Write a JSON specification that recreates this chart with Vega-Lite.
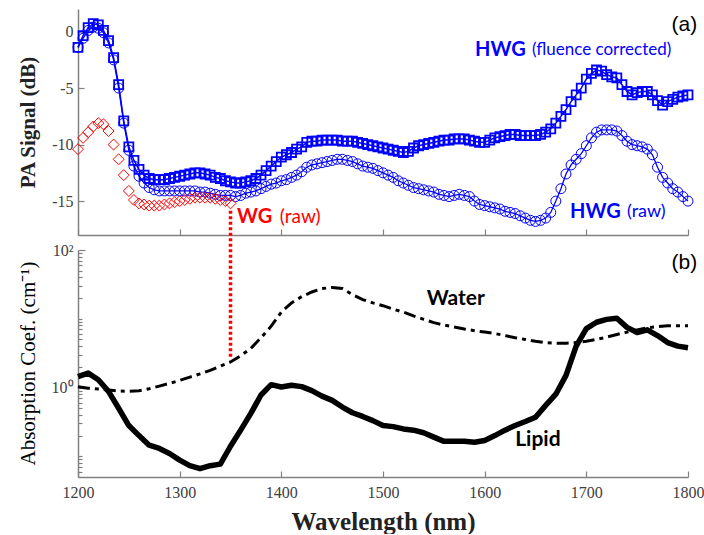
{
  "$schema": "https://vega.github.io/schema/vega-lite/v6.json",
  "padding": {"left": 16, "top": 9, "right": 2, "bottom": 0},
  "background": "white",
  "bounds": "flush",
  "config": {
    "view": {"stroke": null},
    "axis": {"grid": false, "domainColor": "#808080", "domainWidth": 1.5, "tickColor": "#808080", "tickWidth": 1.2, "labelFont": "Liberation Serif", "labelFontSize": 16, "labelColor": "#404040", "titleFont": "Liberation Serif", "titleColor": "#222222", "labelOverlap": false, "labelBound": false, "labelFlush": false}
  },
  "datasets": {
    "hwgC": [
      {"wl":1200,"v":-1.4},{"wl":1205,"v":-0.35},{"wl":1210,"v":0.35},{"wl":1215,"v":0.7},{"wl":1220,"v":0.6},{"wl":1225,"v":0.1},{"wl":1230,"v":-0.8},{"wl":1235,"v":-2.3},{"wl":1240,"v":-4.7},{"wl":1245,"v":-7.9},
      {"wl":1250,"v":-10.2},{"wl":1255,"v":-11.4},{"wl":1260,"v":-12.2},{"wl":1265,"v":-12.7},{"wl":1270,"v":-13.0},{"wl":1275,"v":-13.1},{"wl":1280,"v":-13.1},{"wl":1285,"v":-13.1},{"wl":1290,"v":-13.0},{"wl":1295,"v":-12.9},
      {"wl":1300,"v":-12.8},{"wl":1305,"v":-12.7},{"wl":1310,"v":-12.6},{"wl":1315,"v":-12.5},{"wl":1320,"v":-12.5},{"wl":1325,"v":-12.6},{"wl":1330,"v":-12.7},{"wl":1335,"v":-12.9},{"wl":1340,"v":-13.0},{"wl":1345,"v":-13.2},
      {"wl":1350,"v":-13.3},{"wl":1355,"v":-13.4},{"wl":1360,"v":-13.4},{"wl":1365,"v":-13.3},{"wl":1370,"v":-13.2},{"wl":1375,"v":-13.0},{"wl":1380,"v":-12.7},{"wl":1385,"v":-12.3},{"wl":1390,"v":-11.9},{"wl":1395,"v":-11.5},
      {"wl":1400,"v":-11.1},{"wl":1405,"v":-10.9},{"wl":1410,"v":-10.7},{"wl":1415,"v":-10.4},{"wl":1420,"v":-10.2},{"wl":1425,"v":-9.8},{"wl":1430,"v":-9.7},{"wl":1435,"v":-9.7},{"wl":1440,"v":-9.6},{"wl":1445,"v":-9.6},
      {"wl":1450,"v":-9.6},{"wl":1455,"v":-9.6},{"wl":1460,"v":-9.7},{"wl":1465,"v":-9.7},{"wl":1470,"v":-9.7},{"wl":1475,"v":-9.8},{"wl":1480,"v":-9.9},{"wl":1485,"v":-10.0},{"wl":1490,"v":-10.1},{"wl":1495,"v":-10.2},
      {"wl":1500,"v":-10.3},{"wl":1505,"v":-10.4},{"wl":1510,"v":-10.5},{"wl":1515,"v":-10.6},{"wl":1520,"v":-10.7},{"wl":1525,"v":-10.6},{"wl":1530,"v":-10.3},{"wl":1535,"v":-10.1},{"wl":1540,"v":-10.0},{"wl":1545,"v":-9.9},
      {"wl":1550,"v":-9.8},{"wl":1555,"v":-9.7},{"wl":1560,"v":-9.6},{"wl":1565,"v":-9.6},{"wl":1570,"v":-9.5},{"wl":1575,"v":-9.5},{"wl":1580,"v":-9.5},{"wl":1585,"v":-9.6},{"wl":1590,"v":-9.7},{"wl":1595,"v":-9.8},
      {"wl":1600,"v":-9.8},{"wl":1605,"v":-9.6},{"wl":1610,"v":-9.4},{"wl":1615,"v":-9.3},{"wl":1620,"v":-9.2},{"wl":1625,"v":-9.1},{"wl":1630,"v":-9.1},{"wl":1635,"v":-9.2},{"wl":1640,"v":-9.2},{"wl":1645,"v":-9.2},
      {"wl":1650,"v":-9.2},{"wl":1655,"v":-9.1},{"wl":1660,"v":-8.9},{"wl":1665,"v":-8.6},{"wl":1670,"v":-8.1},{"wl":1675,"v":-7.5},{"wl":1680,"v":-6.9},{"wl":1685,"v":-6.2},{"wl":1690,"v":-5.6},{"wl":1695,"v":-5.0},
      {"wl":1700,"v":-4.2},{"wl":1705,"v":-3.7},{"wl":1710,"v":-3.4},{"wl":1715,"v":-3.5},{"wl":1720,"v":-3.8},{"wl":1725,"v":-4.0},{"wl":1730,"v":-4.1},{"wl":1735,"v":-4.7},{"wl":1740,"v":-5.3},{"wl":1745,"v":-5.6},
      {"wl":1750,"v":-5.4},{"wl":1755,"v":-5.3},{"wl":1760,"v":-5.3},{"wl":1765,"v":-5.6},{"wl":1770,"v":-6.1},{"wl":1775,"v":-6.5},{"wl":1780,"v":-6.2},{"wl":1785,"v":-6.0},{"wl":1790,"v":-5.8},{"wl":1795,"v":-5.7},
      {"wl":1800,"v":-5.6}
    ],
    "hwgR": [
      {"wl":1200,"v":-1.4},{"wl":1205,"v":-0.6},{"wl":1210,"v":0.1},{"wl":1215,"v":0.4},{"wl":1220,"v":0.3},{"wl":1225,"v":-0.1},{"wl":1230,"v":-1.0},{"wl":1235,"v":-2.5},{"wl":1240,"v":-5.0},{"wl":1245,"v":-8.1},
      {"wl":1250,"v":-10.5},{"wl":1255,"v":-11.9},{"wl":1260,"v":-12.8},{"wl":1265,"v":-13.4},{"wl":1270,"v":-13.8},{"wl":1275,"v":-14.0},{"wl":1280,"v":-14.1},{"wl":1285,"v":-14.1},{"wl":1290,"v":-14.1},{"wl":1295,"v":-14.1},
      {"wl":1300,"v":-14.1},{"wl":1305,"v":-14.1},{"wl":1310,"v":-14.1},{"wl":1315,"v":-14.1},{"wl":1320,"v":-14.2},{"wl":1325,"v":-14.2},{"wl":1330,"v":-14.3},{"wl":1335,"v":-14.4},{"wl":1340,"v":-14.5},{"wl":1345,"v":-14.5},
      {"wl":1350,"v":-14.5},{"wl":1355,"v":-14.6},{"wl":1360,"v":-14.5},{"wl":1365,"v":-14.3},{"wl":1370,"v":-14.2},{"wl":1375,"v":-14.1},{"wl":1380,"v":-13.9},{"wl":1385,"v":-13.7},{"wl":1390,"v":-13.5},{"wl":1395,"v":-13.4},
      {"wl":1400,"v":-13.2},{"wl":1405,"v":-13.1},{"wl":1410,"v":-12.9},{"wl":1415,"v":-12.7},{"wl":1420,"v":-12.4},{"wl":1425,"v":-12.0},{"wl":1430,"v":-11.8},{"wl":1435,"v":-11.7},{"wl":1440,"v":-11.6},{"wl":1445,"v":-11.5},
      {"wl":1450,"v":-11.4},{"wl":1455,"v":-11.3},{"wl":1460,"v":-11.3},{"wl":1465,"v":-11.4},{"wl":1470,"v":-11.5},{"wl":1475,"v":-11.7},{"wl":1480,"v":-11.9},{"wl":1485,"v":-12.0},{"wl":1490,"v":-12.1},{"wl":1495,"v":-12.3},
      {"wl":1500,"v":-12.5},{"wl":1505,"v":-12.7},{"wl":1510,"v":-12.9},{"wl":1515,"v":-13.2},{"wl":1520,"v":-13.4},{"wl":1525,"v":-13.6},{"wl":1530,"v":-13.8},{"wl":1535,"v":-13.9},{"wl":1540,"v":-14.0},{"wl":1545,"v":-14.1},
      {"wl":1550,"v":-14.2},{"wl":1555,"v":-14.4},{"wl":1560,"v":-14.5},{"wl":1565,"v":-14.6},{"wl":1570,"v":-14.5},{"wl":1575,"v":-14.4},{"wl":1580,"v":-14.5},{"wl":1585,"v":-14.6},{"wl":1590,"v":-15.0},{"wl":1595,"v":-15.3},
      {"wl":1600,"v":-15.4},{"wl":1605,"v":-15.5},{"wl":1610,"v":-15.6},{"wl":1615,"v":-15.7},{"wl":1620,"v":-15.9},{"wl":1625,"v":-16.0},{"wl":1630,"v":-16.1},{"wl":1635,"v":-16.3},{"wl":1640,"v":-16.5},{"wl":1645,"v":-16.7},
      {"wl":1650,"v":-16.8},{"wl":1655,"v":-16.7},{"wl":1660,"v":-16.5},{"wl":1665,"v":-16.0},{"wl":1670,"v":-15.0},{"wl":1675,"v":-13.9},{"wl":1680,"v":-12.6},{"wl":1685,"v":-11.8},{"wl":1690,"v":-11.3},{"wl":1695,"v":-10.8},
      {"wl":1700,"v":-10.1},{"wl":1705,"v":-9.4},{"wl":1710,"v":-8.9},{"wl":1715,"v":-8.7},{"wl":1720,"v":-8.7},{"wl":1725,"v":-8.7},{"wl":1730,"v":-8.8},{"wl":1735,"v":-9.2},{"wl":1740,"v":-9.7},{"wl":1745,"v":-10.0},
      {"wl":1750,"v":-10.1},{"wl":1755,"v":-10.2},{"wl":1760,"v":-10.4},{"wl":1765,"v":-10.9},{"wl":1770,"v":-12.0},{"wl":1775,"v":-12.9},{"wl":1780,"v":-13.4},{"wl":1785,"v":-13.9},{"wl":1790,"v":-14.2},{"wl":1795,"v":-14.6},
      {"wl":1800,"v":-15.0}
    ],
    "wg": [
      {"wl":1200,"v":-10.4},{"wl":1205,"v":-9.4},{"wl":1210,"v":-8.9},{"wl":1215,"v":-8.4},{"wl":1220,"v":-8.1},{"wl":1225,"v":-8.2},{"wl":1230,"v":-8.8},{"wl":1235,"v":-10.0},{"wl":1240,"v":-11.3},{"wl":1245,"v":-12.7},
      {"wl":1250,"v":-14.1},{"wl":1255,"v":-14.9},{"wl":1260,"v":-15.2},{"wl":1265,"v":-15.3},{"wl":1270,"v":-15.4},{"wl":1275,"v":-15.4},{"wl":1280,"v":-15.4},{"wl":1285,"v":-15.3},{"wl":1290,"v":-15.2},{"wl":1295,"v":-15.1},
      {"wl":1300,"v":-15.0},{"wl":1305,"v":-14.9},{"wl":1310,"v":-14.8},{"wl":1315,"v":-14.7},{"wl":1320,"v":-14.7},{"wl":1325,"v":-14.7},{"wl":1330,"v":-14.7},{"wl":1335,"v":-14.8},{"wl":1340,"v":-14.9},{"wl":1345,"v":-15.0},
      {"wl":1350,"v":-15.2}
    ],
    "water": [
      {"wl":1200,"a":1.03},{"wl":1210,"a":0.98},{"wl":1220,"a":0.95},{"wl":1230,"a":0.92},{"wl":1240,"a":0.89},{"wl":1250,"a":0.88},{"wl":1260,"a":0.9},{"wl":1270,"a":0.96},{"wl":1280,"a":1.05},{"wl":1290,"a":1.15},
      {"wl":1300,"a":1.27},{"wl":1310,"a":1.42},{"wl":1320,"a":1.58},{"wl":1330,"a":1.78},{"wl":1340,"a":2.05},{"wl":1350,"a":2.35},{"wl":1360,"a":2.9},{"wl":1370,"a":3.7},{"wl":1380,"a":5.3},{"wl":1390,"a":7.8},
      {"wl":1400,"a":12.5},{"wl":1410,"a":17},{"wl":1420,"a":21},{"wl":1430,"a":24.5},{"wl":1440,"a":27.5},{"wl":1450,"a":28.5},{"wl":1460,"a":27.5},{"wl":1470,"a":22.5},{"wl":1480,"a":19},{"wl":1490,"a":17},
      {"wl":1500,"a":15.5},{"wl":1510,"a":13.8},{"wl":1520,"a":12.5},{"wl":1530,"a":11},{"wl":1540,"a":9.8},{"wl":1550,"a":8.8},{"wl":1560,"a":8.1},{"wl":1570,"a":7.6},{"wl":1580,"a":7.1},{"wl":1590,"a":6.7},
      {"wl":1600,"a":6.4},{"wl":1610,"a":6.1},{"wl":1620,"a":5.7},{"wl":1630,"a":5.3},{"wl":1640,"a":5.0},{"wl":1650,"a":4.7},{"wl":1660,"a":4.5},{"wl":1670,"a":4.4},{"wl":1680,"a":4.4},{"wl":1690,"a":4.5},
      {"wl":1700,"a":4.7},{"wl":1710,"a":5.0},{"wl":1720,"a":5.4},{"wl":1730,"a":5.9},{"wl":1740,"a":6.4},{"wl":1750,"a":6.9},{"wl":1760,"a":7.4},{"wl":1770,"a":7.7},{"wl":1780,"a":7.9},{"wl":1790,"a":7.9},
      {"wl":1800,"a":7.9}
    ],
    "lipid": [
      {"wl":1200,"a":1.44},{"wl":1210,"a":1.62},{"wl":1220,"a":1.3},{"wl":1230,"a":0.88},{"wl":1240,"a":0.5},{"wl":1250,"a":0.28},{"wl":1260,"a":0.2},{"wl":1270,"a":0.145},{"wl":1280,"a":0.13},{"wl":1290,"a":0.11},
      {"wl":1300,"a":0.088},{"wl":1310,"a":0.073},{"wl":1320,"a":0.066},{"wl":1330,"a":0.073},{"wl":1340,"a":0.077},{"wl":1350,"a":0.14},{"wl":1360,"a":0.24},{"wl":1370,"a":0.42},{"wl":1380,"a":0.78},{"wl":1390,"a":1.1},
      {"wl":1400,"a":1.02},{"wl":1410,"a":1.08},{"wl":1420,"a":1.03},{"wl":1430,"a":0.9},{"wl":1440,"a":0.75},{"wl":1450,"a":0.65},{"wl":1460,"a":0.52},{"wl":1470,"a":0.43},{"wl":1480,"a":0.38},{"wl":1490,"a":0.33},
      {"wl":1500,"a":0.28},{"wl":1510,"a":0.27},{"wl":1520,"a":0.25},{"wl":1530,"a":0.24},{"wl":1540,"a":0.22},{"wl":1550,"a":0.19},{"wl":1560,"a":0.165},{"wl":1570,"a":0.165},{"wl":1580,"a":0.165},{"wl":1590,"a":0.16},
      {"wl":1600,"a":0.17},{"wl":1610,"a":0.2},{"wl":1620,"a":0.24},{"wl":1630,"a":0.28},{"wl":1640,"a":0.32},{"wl":1650,"a":0.37},{"wl":1660,"a":0.55},{"wl":1670,"a":0.8},{"wl":1680,"a":1.5},{"wl":1690,"a":4.0},
      {"wl":1700,"a":7.2},{"wl":1710,"a":8.9},{"wl":1720,"a":9.8},{"wl":1730,"a":10.2},{"wl":1740,"a":7.5},{"wl":1750,"a":6.3},{"wl":1760,"a":6.9},{"wl":1770,"a":5.7},{"wl":1780,"a":4.5},{"wl":1790,"a":4.0},
      {"wl":1800,"a":3.8}
    ],
    "one": [{}]
  },
  "spacing": 15,
  "vconcat": [
    {
      "width": 610,
      "height": 226,
      "layer": [
        {
          "data": {"name": "hwgR"},
          "mark": {"type": "line", "color": "#0000ff", "strokeWidth": 1.3},
          "encoding": {
            "x": {"field": "wl", "type": "quantitative", "scale": {"domain": [1200, 1800], "nice": false, "zero": false},
                  "axis": {"values": [1200, 1300, 1400, 1500, 1600, 1700, 1800], "labels": false, "title": null, "tickSize": -6}},
            "y": {"field": "v", "type": "quantitative", "scale": {"domain": [-18, 2], "nice": false, "zero": false},
                  "axis": {"values": [0, -5, -10, -15], "labelExpr": "'' + datum.value", "tickSize": -6, "labelPadding": 11,
                           "title": "PA Signal (dB)", "titleFontSize": 21, "titleFontWeight": "bold", "titleX": -50, "titleY": 113, "titleAngle": -90, "titleAlign": "center", "titleBaseline": "middle"}}
          }
        },
        {
          "data": {"name": "hwgR"},
          "mark": {"type": "point", "shape": "circle", "filled": false, "color": "#0000ff", "size": 100, "strokeWidth": 1, "opacity": 1},
          "encoding": {"x": {"field": "wl", "type": "quantitative"}, "y": {"field": "v", "type": "quantitative"}}
        },
        {
          "data": {"name": "hwgC"},
          "mark": {"type": "line", "color": "#0000ff", "strokeWidth": 1.5},
          "encoding": {"x": {"field": "wl", "type": "quantitative"}, "y": {"field": "v", "type": "quantitative"}}
        },
        {
          "data": {"name": "hwgC"},
          "mark": {"type": "point", "shape": "square", "filled": false, "color": "#0000ff", "size": 81, "strokeWidth": 1.8, "opacity": 1},
          "encoding": {"x": {"field": "wl", "type": "quantitative"}, "y": {"field": "v", "type": "quantitative"}}
        },
        {
          "data": {"name": "wg"},
          "mark": {"type": "point", "shape": "diamond", "filled": false, "color": "#ff0000", "size": 120, "strokeWidth": 1, "opacity": 1},
          "encoding": {"x": {"field": "wl", "type": "quantitative"}, "y": {"field": "v", "type": "quantitative"}}
        },
        {
          "data": {"name": "one"},
          "mark": {"type": "text", "text": "(a)", "align": "right", "baseline": "middle", "font": "Liberation Sans", "fontSize": 21, "color": "#000000"},
          "encoding": {"x": {"datum": 1809}, "y": {"datum": 0.6}}
        },
        {
          "data": {"name": "one"},
          "mark": {"type": "text", "text": "HWG", "align": "left", "baseline": "middle", "font": "Lato", "fontWeight": "bold", "fontSize": 20, "color": "#0000ff"},
          "encoding": {"x": {"datum": 1590.5}, "y": {"datum": -1.6}}
        },
        {
          "data": {"name": "one"},
          "mark": {"type": "text", "text": "(fluence corrected)", "align": "left", "baseline": "middle", "font": "Lato", "fontSize": 17, "color": "#0000ff"},
          "encoding": {"x": {"datum": 1646.5}, "y": {"datum": -1.6}}
        },
        {
          "data": {"name": "one"},
          "mark": {"type": "text", "text": "HWG", "align": "left", "baseline": "middle", "font": "Lato", "fontWeight": "bold", "fontSize": 20, "color": "#0000ff"},
          "encoding": {"x": {"datum": 1684}, "y": {"datum": -16.0}}
        },
        {
          "data": {"name": "one"},
          "mark": {"type": "text", "text": "(raw)", "align": "left", "baseline": "middle", "font": "Lato", "fontSize": 18, "color": "#0000ff"},
          "encoding": {"x": {"datum": 1740}, "y": {"datum": -16.0}}
        },
        {
          "data": {"name": "one"},
          "mark": {"type": "text", "text": "WG", "align": "left", "baseline": "middle", "font": "Lato", "fontWeight": "bold", "fontSize": 20, "color": "#ff0000"},
          "encoding": {"x": {"datum": 1356.5}, "y": {"datum": -16.4}}
        },
        {
          "data": {"name": "one"},
          "mark": {"type": "text", "text": "(raw)", "align": "left", "baseline": "middle", "font": "Lato", "fontSize": 19, "color": "#ff0000"},
          "encoding": {"x": {"datum": 1398.5}, "y": {"datum": -16.4}}
        }
      ]
    },
    {
      "width": 610,
      "height": 227,
      "layer": [
        {
          "data": {"name": "water"},
          "mark": {"type": "line", "color": "#000000", "strokeWidth": 3, "strokeDash": [12, 5, 4, 5]},
          "encoding": {
            "x": {"field": "wl", "type": "quantitative", "scale": {"domain": [1200, 1800], "nice": false, "zero": false},
                  "axis": {"values": [1200, 1300, 1400, 1500, 1600, 1700, 1800], "format": "d", "tickSize": -6, "labelPadding": 13,
                           "title": "Wavelength (nm)", "titleFontSize": 25, "titleFontWeight": "bold", "titleX": 305, "titleY": 44, "titleAlign": "center", "titleBaseline": "middle"}},
            "y": {"field": "a", "type": "quantitative", "scale": {"type": "log", "domain": [0.05, 100], "nice": false},
                  "axis": {"values": [0.06, 0.07, 0.08, 0.09, 0.1, 0.2, 0.3, 0.4, 0.5, 0.6, 0.7, 0.8, 0.9, 1, 2, 3, 4, 5, 6, 7, 8, 9, 10, 20, 30, 40, 50, 60, 70, 80, 90, 100],
                           "labelExpr": "datum.value === 1 ? '10⁰' : (datum.value === 100 ? '10²' : '')",
                           "tickSize": {"condition": {"test": "datum.value === 1 || datum.value === 100", "value": -7}, "value": -4},
                           "labelPadding": {"condition": {"test": "datum.value === 1 || datum.value === 100", "value": 12}, "value": 9},
                           "title": "Absorption Coef. (cm⁻¹)", "titleFontSize": 21, "titleFontWeight": "normal", "titleColor": "#000000", "titleX": -50, "titleY": 113, "titleAngle": -90, "titleAlign": "center", "titleBaseline": "middle"}}
          }
        },
        {
          "data": {"name": "lipid"},
          "mark": {"type": "line", "color": "#000000", "strokeWidth": 5.5, "strokeJoin": "round"},
          "encoding": {"x": {"field": "wl", "type": "quantitative"}, "y": {"field": "a", "type": "quantitative"}}
        },
        {
          "data": {"name": "one"},
          "mark": {"type": "rule", "color": "#ff0000", "strokeWidth": 3.5, "strokeDash": [3, 2.5], "clip": false},
          "encoding": {"x": {"datum": 1350}, "y": {"datum": 2.8}, "y2": {"datum": 406}}
        },
        {
          "data": {"name": "one"},
          "mark": {"type": "text", "text": "(b)", "align": "right", "baseline": "middle", "font": "Liberation Sans", "fontSize": 21, "color": "#000000"},
          "encoding": {"x": {"datum": 1809}, "y": {"datum": 65}}
        },
        {
          "data": {"name": "one"},
          "mark": {"type": "text", "text": "Water", "align": "left", "baseline": "middle", "font": "Lato", "fontWeight": "bold", "fontSize": 21, "color": "#000000"},
          "encoding": {"x": {"datum": 1543}, "y": {"datum": 19.5}}
        },
        {
          "data": {"name": "one"},
          "mark": {"type": "text", "text": "Lipid", "align": "left", "baseline": "middle", "font": "Lato", "fontWeight": "bold", "fontSize": 21, "color": "#000000"},
          "encoding": {"x": {"datum": 1630}, "y": {"datum": 0.17}}
        }
      ]
    }
  ]
}
